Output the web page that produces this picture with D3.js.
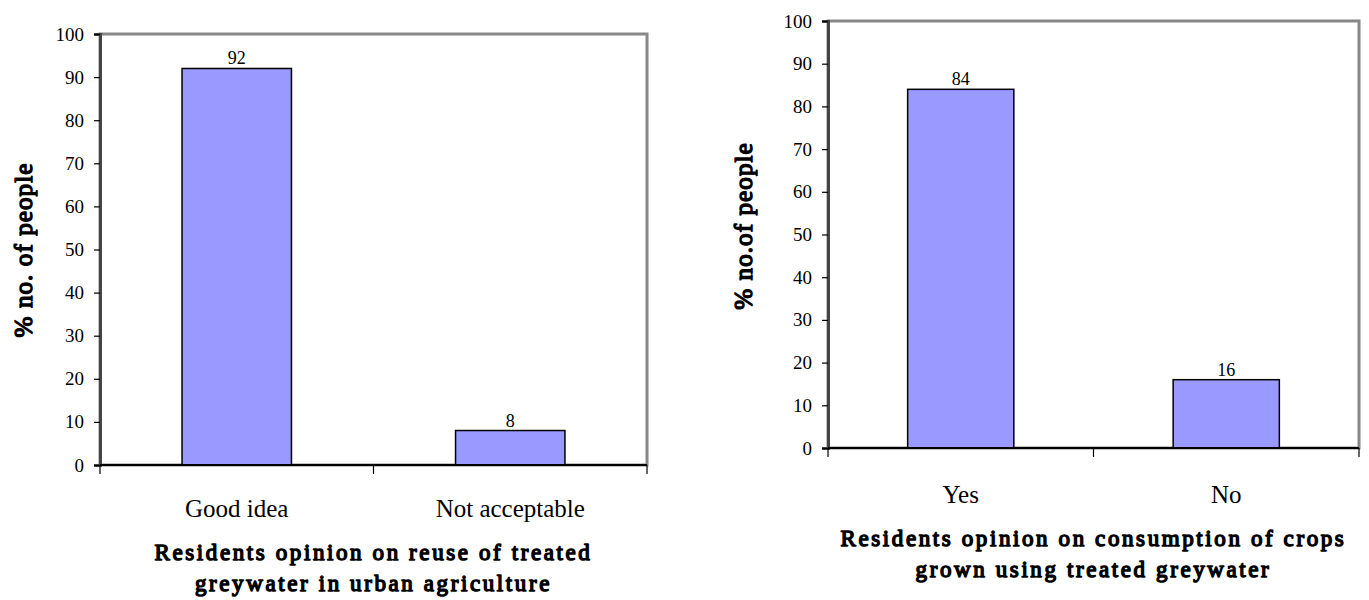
<!DOCTYPE html>
<html>
<head>
<meta charset="utf-8">
<script src="https://cdn.jsdelivr.net/npm/d3@7"></script>
<style>
  body { margin: 0; background: #fff; }
  svg text { font-family: "Liberation Serif", "DejaVu Serif", serif; fill: #000; }
</style>
</head>
<body>
<svg id="chart" width="1369" height="600"></svg>
<script>
// chart 1 data
const reuseCategories = ["Good idea", "Not acceptable"];
const reuseValues = [92, 8];
const reuseTitle = ["Residents opinion on reuse of treated", "greywater in urban agriculture"];
const reuseYLabel = "% no. of people";

// chart 2 data
const cropCategories = ["Yes", "No"];
const cropValues = [84, 16];
const cropTitle = ["Residents opinion on consumption of crops", "grown using treated greywater"];
const cropYLabel = "% no.of people";

const yTicks = [0, 10, 20, 30, 40, 50, 60, 70, 80, 90, 100];

const serif = '"Liberation Serif", "DejaVu Serif", serif';
const svg = d3.select("#chart");

// bold serif face is not available, so thicken the regular one
function fakeBold(sel, w) {
  sel.style("font-family", serif)
    .style("font-weight", "normal")
    .attr("stroke", "#000")
    .attr("stroke-width", w)
    .attr("stroke-linejoin", "round");
}

function drawChart(cfg) {
  const g = svg.append("g");
  const { left, right, top, bottom } = cfg.box;

  const x = d3.scaleBand()
    .domain(cfg.categories)
    .range([left, right])
    .paddingInner(0.6)
    .paddingOuter(0.3);

  const y = d3.scaleLinear()
    .domain([0, 100])
    .range([bottom, top]);

  // plot area border (gray, excel style)
  g.append("rect")
    .attr("x", left)
    .attr("y", top)
    .attr("width", right - left)
    .attr("height", bottom - top)
    .attr("fill", "#fff")
    .attr("stroke", "#888")
    .attr("stroke-width", 3);

  // bars
  g.selectAll("rect.bar")
    .data(cfg.values)
    .enter()
    .append("rect")
    .attr("class", "bar")
    .attr("x", (d, i) => x(cfg.categories[i]))
    .attr("y", d => y(d))
    .attr("width", x.bandwidth())
    .attr("height", d => y(0) - y(d))
    .attr("fill", "#9999ff")
    .attr("stroke", "#000")
    .attr("stroke-width", 1.5);

  // value labels
  g.selectAll("text.val")
    .data(cfg.values)
    .enter()
    .append("text")
    .attr("class", "val")
    .attr("x", (d, i) => x(cfg.categories[i]) + x.bandwidth() / 2)
    .attr("y", d => y(d) - 4)
    .attr("text-anchor", "middle")
    .style("font-family", serif)
    .style("font-size", "18px")
    .text(d => d);

  // y axis
  const yAxis = d3.axisLeft(y)
    .tickValues(yTicks)
    .tickSize(6)
    .tickPadding(10);

  const ya = g.append("g")
    .attr("transform", `translate(${left},0)`)
    .call(yAxis);
  ya.select(".domain").attr("stroke", "#444").attr("stroke-width", 3);
  ya.selectAll(".tick line").attr("stroke", "#000").attr("stroke-width", 1.2);
  ya.selectAll(".tick text")
    .style("font-size", "19px")
    .style("font-family", serif);

  // x axis line + boundary ticks
  g.append("line")
    .attr("x1", left).attr("x2", right)
    .attr("y1", bottom).attr("y2", bottom)
    .attr("stroke", "#000")
    .attr("stroke-width", 2);

  const step = x.step();
  const bounds = d3.range(cfg.categories.length + 1).map(i => left + i * step);
  g.selectAll("line.xtick")
    .data(bounds)
    .enter()
    .append("line")
    .attr("class", "xtick")
    .attr("x1", d => d).attr("x2", d => d)
    .attr("y1", bottom).attr("y2", bottom + 9)
    .attr("stroke", "#000")
    .attr("stroke-width", 1.2);

  // category labels
  g.selectAll("text.cat")
    .data(cfg.categories)
    .enter()
    .append("text")
    .attr("class", "cat")
    .attr("x", d => x(d) + x.bandwidth() / 2)
    .attr("y", cfg.catY)
    .attr("text-anchor", "middle")
    .style("font-family", serif)
    .style("font-size", "25px")
    .text(d => d);

  // x title
  g.selectAll("text.xtitle")
    .data(cfg.title)
    .enter()
    .append("text")
    .attr("class", "xtitle")
    .attr("x", (left + right) / 2)
    .attr("y", (d, i) => cfg.titleY + i * 31)
    .attr("text-anchor", "middle")
    .style("font-size", "23px")
    .style("letter-spacing", "2.6px")
    .call(fakeBold, 1.4)
    .text(d => d);

  // y title
  g.append("text")
    .attr("transform", `translate(${cfg.yLabelX},${cfg.yLabelY}) rotate(-90)`)
    .attr("text-anchor", "middle")
    .style("font-size", "25px")
    .style("letter-spacing", "1.1px")
    .call(fakeBold, 1.4)
    .text(cfg.yLabel);
}

drawChart({
  categories: reuseCategories,
  values: reuseValues,
  title: reuseTitle,
  yLabel: reuseYLabel,
  box: { left: 100, right: 647, top: 34, bottom: 465 },
  catY: 517,
  titleY: 560,
  yLabelX: 32,
  yLabelY: 250
});

drawChart({
  categories: cropCategories,
  values: cropValues,
  title: cropTitle,
  yLabel: cropYLabel,
  box: { left: 828, right: 1359, top: 21, bottom: 448 },
  catY: 503,
  titleY: 546,
  yLabelX: 752,
  yLabelY: 226
});
</script>
</body>
</html>
